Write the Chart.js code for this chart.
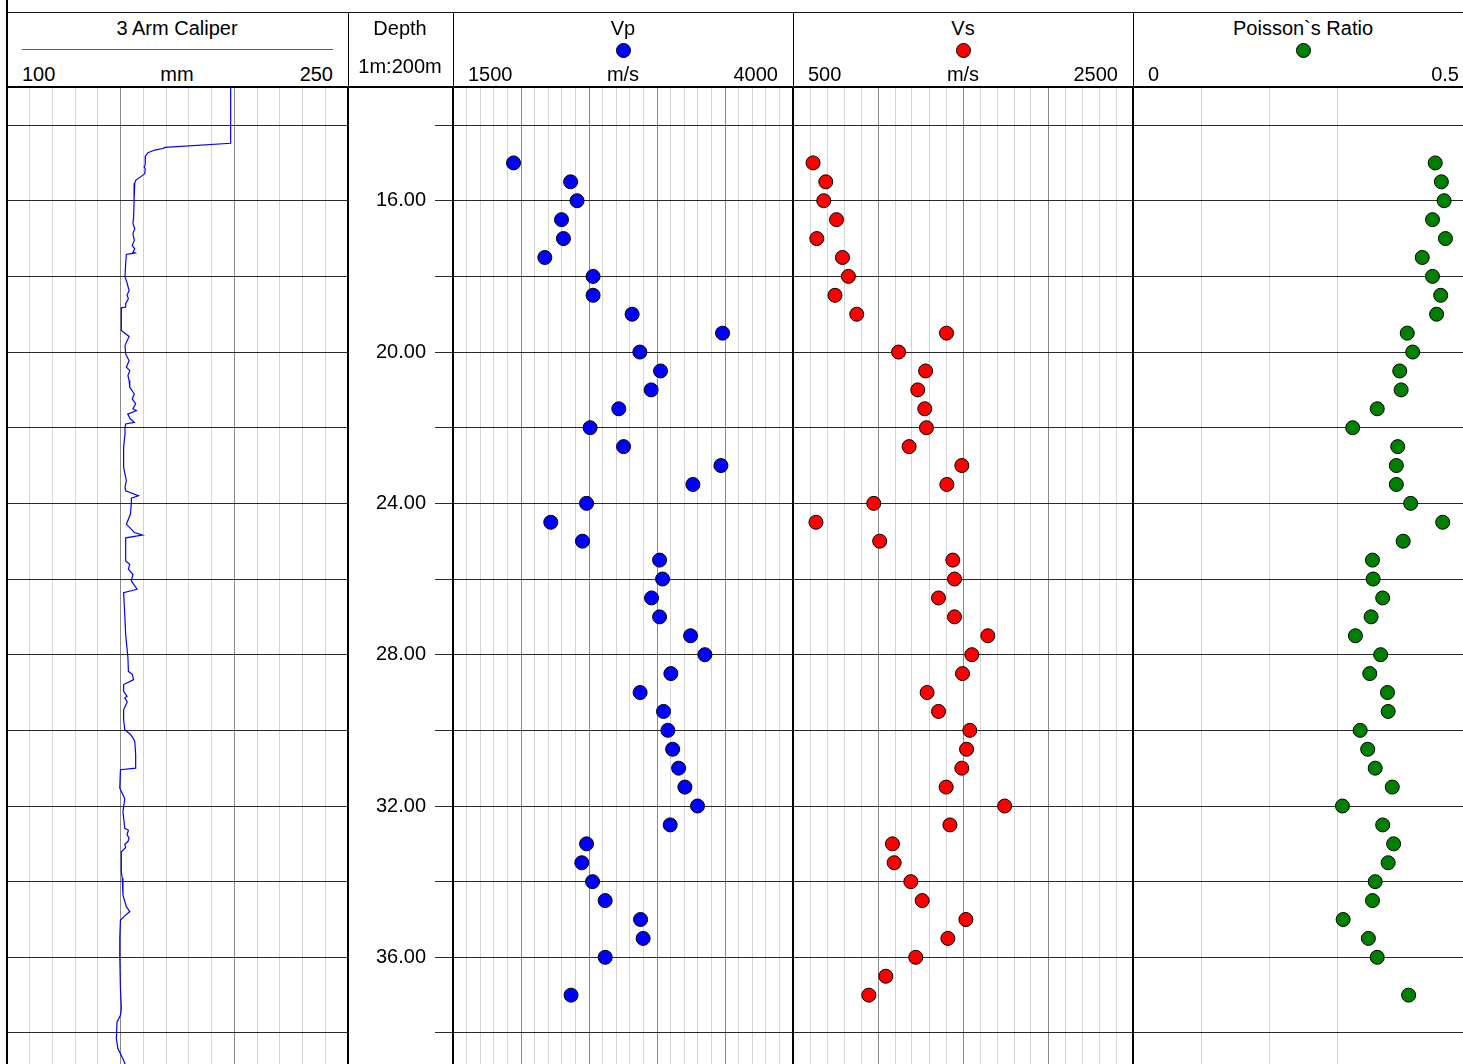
<!DOCTYPE html>
<html>
<head>
<meta charset="utf-8">
<script src="https://cdn.jsdelivr.net/npm/chart.js@4.4.1/dist/chart.umd.min.js"></script>
<style>
  html, body { margin:0; padding:0; background:#fff; overflow:hidden; }
  #wrap { position:relative; width:1463px; height:1064px; overflow:hidden;
          font-family:"Liberation Sans", Arial, sans-serif; color:#000; }
  canvas.cv { position:absolute; top:88px; }
  .ln { position:absolute; background:#000; z-index:3; }
  .t { position:absolute; font-size:20px; line-height:20px; white-space:nowrap; z-index:3; }
  .dot { position:absolute; width:15px; height:15px; border-radius:50%; border:1px solid #000;
         box-sizing:border-box; z-index:3; }
</style>
</head>
<body>
<div id="wrap"></div>
<script>
// ---------------- DATA ----------------
const depthRange = [13.02, 38.82];            // visible depth window (m)
const depthTickStep = 2;                      // horizontal grid every 2 m
const depthLabelStep = 4;                     // depth labels every 4 m

const sampleDepths = [15.0,15.5,16.0,16.5,17.0,17.5,18.0,18.5,19.0,19.5,20.0,20.5,21.0,21.5,22.0,22.5,
  23.0,23.5,24.0,24.5,25.0,25.5,26.0,26.5,27.0,27.5,28.0,28.5,29.0,29.5,30.0,30.5,31.0,31.5,32.0,32.5,
  33.0,33.5,34.0,34.5,35.0,35.5,36.0,36.5,37.0];

const vp = [1945,2365,2412,2298,2312,2175,2530,2530,2817,3482,2874,3026,2957,2719,2508,2754,
  3470,3264,2482,2219,2452,3019,3041,2960,3019,3247,3352,3102,2876,3048,3080,3115,3159,3205,3298,3097,
  2482,2447,2526,2619,2879,2898,2619,null,2368];

const vs = [618,693,681,756,640,791,826,747,875,1403,1121,1280,1234,1275,1285,1183,
  1493,1405,975,635,1010,1440,1450,1356,1450,1646,1552,1497,1289,1356,1540,1521,1493,1401,1745,1423,
  1085,1095,1193,1260,1517,1411,1222,1046,946];

const poisson = [0.443,0.452,0.456,0.439,0.458,0.424,0.439,0.451,0.445,0.402,0.410,0.391,0.393,0.358,0.322,0.388,
  0.386,0.386,0.407,0.454,0.396,0.351,0.352,0.366,0.349,0.326,0.363,0.347,0.373,0.374,0.333,0.344,0.355,0.380,0.307,0.366,
  0.382,0.374,0.355,0.351,0.308,0.345,0.358,null,0.404];

const caliperDepth = [13.02,13.3,13.6,13.9,14.2,14.48,14.59,14.62,14.66,14.73,14.82,15.05,15.1,15.15,15.28,15.31,
  15.46,15.54,15.99,16.43,16.6,16.74,16.87,17.05,17.18,17.27,17.36,17.38,17.42,17.66,18.02,18.11,18.37,18.5,
  18.59,18.72,18.81,18.83,19.43,19.59,19.83,20.05,20.23,20.4,20.49,20.62,20.75,20.93,21.11,21.24,21.37,21.5,
  21.55,21.64,21.77,21.86,21.9,22.02,22.17,22.52,23.05,23.4,23.58,23.67,23.8,23.86,23.98,24.29,24.55,24.64,
  24.77,24.84,24.91,25.52,25.61,25.74,25.88,26.05,26.27,26.36,26.94,27.47,28.08,28.44,28.52,28.66,28.79,28.97,
  29.1,29.14,29.25,29.45,29.72,29.98,30.11,30.2,30.29,30.64,31.0,31.04,31.53,31.66,31.81,32.15,32.59,32.64,
  32.76,32.85,32.94,33.01,33.1,33.21,33.74,33.91,34.35,34.66,34.79,34.93,35.02,35.5,35.94,36.83,37.36,37.53,
  37.71,38.15,38.41,38.68,38.86];

const caliperMm = [198.4,198.2,198.5,198.3,198.5,198.4,169.4,168.6,165.0,162.0,160.9,160.8,160.3,160.8,160.6,160.1,
  156.6,156.2,155.9,155.7,155.4,156.2,155.4,156.0,155.1,156.2,155.4,156.3,152.5,152.2,151.9,152.5,153.7,152.8,
  153.4,152.2,152.2,150.3,150.3,153.7,151.9,152.2,153.7,152.5,154.0,153.2,153.7,154.0,156.0,155.1,156.6,155.4,
  156.9,153.1,154.3,156.0,152.2,151.9,151.9,151.3,151.3,152.5,151.9,152.2,157.8,154.7,154.7,154.3,152.5,154.0,
  156.0,159.6,152.2,152.2,154.0,153.4,155.4,154.7,157.2,151.3,151.8,152.2,153.2,153.4,155.1,155.7,151.3,151.3,
  152.8,151.8,152.9,151.3,151.3,151.8,154.3,155.4,156.2,156.6,156.6,149.9,149.6,150.7,151.8,151.0,151.8,153.4,
  152.8,153.7,153.2,151.8,152.2,150.3,150.3,150.7,151.0,152.5,154.0,151.3,149.9,149.6,149.6,149.9,150.3,149.9,
  148.4,148.1,148.8,151.0,152.2];

// axis ranges / tick labels of each track
const caliperAxis = {min:100, max:250, step:10, major:50, labels:['100','mm','250'], title:'3 Arm Caliper'};
const vpAxis      = {min:1500, max:4000, step:100, major:500, labels:['1500','m/s','4000'], title:'Vp'};
const vsAxis      = {min:500, max:2500, step:100, major:500, labels:['500','m/s','2500'], title:'Vs'};
const prAxis      = {min:0, max:0.4837, step:0.1, major:null, labels:['0','','0.5'], title:'Poisson`s Ratio'};
const depthHeader = ['Depth', '1m:200m'];

// ---------------- LAYOUT / STYLE ----------------
const FONT = '"Liberation Sans", Arial, sans-serif';
const PLOT_H = 976;
const wrap = document.getElementById('wrap');
const isMult = (v, m) => Math.abs(v / m - Math.round(v / m)) < 1e-6;
function noPad(s) { s.paddingTop = 0; s.paddingBottom = 0; s.paddingLeft = 0; s.paddingRight = 0; }

function addCanvas(left, width) {
  const c = document.createElement('canvas');
  c.className = 'cv';
  c.width = width; c.height = PLOT_H;
  c.style.left = left + 'px'; c.style.width = width + 'px'; c.style.height = PLOT_H + 'px';
  wrap.appendChild(c);
  return c;
}

function trackOptions(ax) {
  return {
    responsive:false, animation:false, events:[], devicePixelRatio:1,
    layout:{padding:0, autoPadding:false},
    plugins:{legend:{display:false}, tooltip:{enabled:false}},
    scales:{
      x:{type:'linear', position:'top', min:ax.min, max:ax.max,
         ticks:{display:false, stepSize:ax.step},
         grid:{drawTicks:false, lineWidth:1,
               color:c => {
                 const v = c.tick ? c.tick.value : NaN;
                 if (!isMult(v, ax.step)) return 'rgba(0,0,0,0)';
                 if (ax.major && isMult(v, ax.major)) return '#8a8a8a';
                 return '#d4d4d4';
               }},
         border:{display:false},
         afterFit(s){ s.height = 0; noPad(s); }},
      y:{type:'linear', min:depthRange[0], max:depthRange[1], reverse:true,
         ticks:{display:false, stepSize:depthTickStep},
         grid:{drawTicks:false, lineWidth:1,
               color:c => (c.tick && isMult(c.tick.value, depthTickStep)) ? '#2a2a2a' : 'rgba(0,0,0,0)'},
         border:{display:false},
         afterFit(s){ s.width = 0; noPad(s); }}
    }
  };
}

function pointsOf(values) {
  const out = [];
  sampleDepths.forEach((d, i) => { if (values[i] !== null) out.push({x: values[i], y: d}); });
  return out;
}

function scatterTrack(left, width, ax, values, color) {
  new Chart(addCanvas(left, width), {
    type:'scatter',
    data:{datasets:[{data:pointsOf(values), pointRadius:7, pointHoverRadius:7,
      pointBackgroundColor:color, pointBorderColor:'#000', pointBorderWidth:1, showLine:false}]},
    options:trackOptions(ax)
  });
}

// Caliper track
new Chart(addCanvas(7, 341), {
  type:'scatter',
  data:{datasets:[{data:caliperDepth.map((d, i) => ({x: caliperMm[i], y: d})),
    showLine:true, borderColor:'#0000ff', borderWidth:1.2, pointRadius:0, tension:0, fill:false}]},
  options:trackOptions(caliperAxis)
});

// Depth track (labels via the y scale)
new Chart(addCanvas(348, 107), {
  type:'scatter',
  data:{datasets:[]},
  options:{
    responsive:false, animation:false, events:[], devicePixelRatio:1,
    layout:{padding:0, autoPadding:false},
    plugins:{legend:{display:false}, tooltip:{enabled:false}},
    scales:{
      x:{type:'linear', display:false, min:0, max:1},
      y:{type:'linear', position:'left', min:depthRange[0], max:depthRange[1], reverse:true,
         ticks:{stepSize:depthTickStep, autoSkip:false, padding:9, color:'#000',
                font:{family:FONT, size:20},
                callback:v => isMult(v, depthLabelStep) ? v.toFixed(2) : ''},
         grid:{drawOnChartArea:false, drawTicks:true, tickLength:18, lineWidth:1,
               tickColor:c => (c.tick && isMult(c.tick.value, depthTickStep)) ? '#2a2a2a' : 'rgba(0,0,0,0)'},
         border:{display:false},
         afterFit(s){ s.width = 105; noPad(s); }}
    }
  }
});

scatterTrack(453, 340, vpAxis, vp, '#0000ff');
scatterTrack(793, 340, vsAxis, vs, '#ff0000');
scatterTrack(1133, 330, prAxis, poisson, '#008000');

// ---------------- FRAME + HEADER ----------------
function line(l, t, w, h, col) {
  const d = document.createElement('div'); d.className = 'ln';
  Object.assign(d.style, {left:l+'px', top:t+'px', width:w+'px', height:h+'px'});
  if (col) d.style.background = col;
  wrap.appendChild(d);
}
function text(str, x, top, align) {
  const d = document.createElement('div'); d.className = 't'; d.textContent = str;
  const W = 300;
  let left = x;
  if (align === 'center') left = x - W / 2;
  if (align === 'right') left = x - W;
  Object.assign(d.style, {left:left+'px', top:top+'px', width:W+'px', textAlign:align});
  wrap.appendChild(d);
}
function dot(cx, cy, col) {
  const d = document.createElement('div'); d.className = 'dot';
  Object.assign(d.style, {left:(cx-7.5)+'px', top:(cy-7.5)+'px', background:col});
  wrap.appendChild(d);
}

line(7, 11.5, 1456, 1.5, '#111');          // top line
line(6, 0, 2, 1064);                       // left border
line(7, 86, 1456, 2);                      // header bottom
[347, 452, 792, 1132].forEach(x => { line(x + 0.5, 12, 1, 75); line(x, 87, 2, 977); });

// caliper header
text(caliperAxis.title, 177, 18, 'center');
line(22, 49, 311, 1, '#4a4aff');
text(caliperAxis.labels[0], 22, 63.5, 'left');
text(caliperAxis.labels[1], 177, 63.5, 'center');
text(caliperAxis.labels[2], 333, 63.5, 'right');
// depth header
text(depthHeader[0], 400, 18, 'center');
text(depthHeader[1], 400, 56, 'center');
// Vp header
text(vpAxis.title, 623, 18, 'center');
dot(623, 50, '#0000ff');
text(vpAxis.labels[0], 468, 63.5, 'left');
text(vpAxis.labels[1], 623, 63.5, 'center');
text(vpAxis.labels[2], 778, 63.5, 'right');
// Vs header
text(vsAxis.title, 963, 18, 'center');
dot(963, 50, '#ff0000');
text(vsAxis.labels[0], 808, 63.5, 'left');
text(vsAxis.labels[1], 963, 63.5, 'center');
text(vsAxis.labels[2], 1118, 63.5, 'right');
// Poisson header
text(prAxis.title, 1303, 18, 'center');
dot(1303, 50, '#008000');
text(prAxis.labels[0], 1148, 63.5, 'left');
text(prAxis.labels[2], 1459, 63.5, 'right');
</script>
</body>
</html>
